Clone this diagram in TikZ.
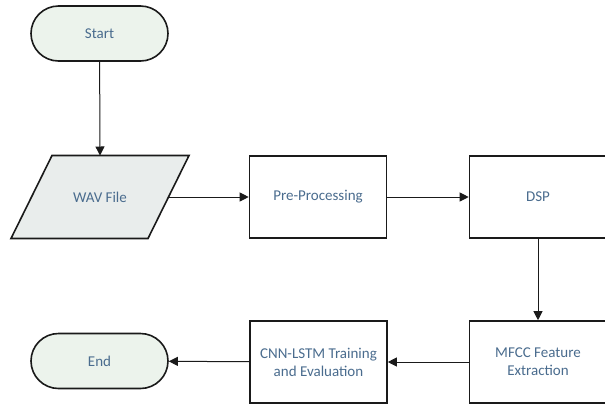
\documentclass[tikz,border=0pt]{standalone}
\usepackage{fontspec}
\setmainfont{Carlito}
\usetikzlibrary{arrows.meta}
\definecolor{txtblue}{HTML}{4A6C8E}
\definecolor{termfill}{HTML}{ECF3EC}
\definecolor{iofill}{HTML}{E9EDEC}
\definecolor{edge}{HTML}{1A1A1A}
\tikzset{
  base/.style={draw=edge, line width=1.6pt, text=txtblue, align=center,
    font=\fontsize{15}{18}\selectfont, inner sep=0pt},
  terminal/.style={base, fill=termfill, rectangle, rounded corners=27.5pt,
    minimum width=137pt, minimum height=55pt},
  iolabel/.style={text=txtblue, font=\fontsize{15}{18}\selectfont, inner sep=0pt},
  ioshape/.style={draw=edge, line width=1.6pt, fill=iofill, line join=miter},
  procbox/.style={base, fill=white, rectangle, minimum width=137pt, minimum height=82pt},
  flow/.style={draw=edge, line width=1pt, -{Triangle[length=9pt,width=9pt]}}
}
\begin{document}
\begin{tikzpicture}[x=1pt,y=-1pt]
  \useasboundingbox (0,0) rectangle (605,405);
  \node[terminal] (start) at (99.5,33.5) {Start};
  % input/output parallelogram
  \draw[ioshape] (52,155.5) -- (189,155.5) -- (148,238.5) -- (11,238.5) -- cycle;
  \node[iolabel] (wav) at (100,197) {WAV File};
  \coordinate (wavtop) at (100,155.5);
  \coordinate (wavright) at (168.5,197);
  \node[procbox] (pre) at (318,197) {Pre-Processing};
  \node[procbox] (dsp) at (538,197) {DSP};
  \node[procbox] (mfcc) at (538,362) {MFCC Feature\\Extraction};
  \node[procbox] (cnn) at (318.5,362) {CNN-LSTM Training\\and Evaluation};
  \node[terminal] (end) at (99.5,361) {End};
  \draw[flow] (start) -- (wavtop);
  \draw[flow] (wavright) -- (pre);
  \draw[flow] (pre) -- (dsp);
  \draw[flow] (dsp) -- (mfcc);
  \draw[flow] (mfcc) -- (cnn);
  \draw[flow] (cnn) -- (end);
\end{tikzpicture}
\end{document}
